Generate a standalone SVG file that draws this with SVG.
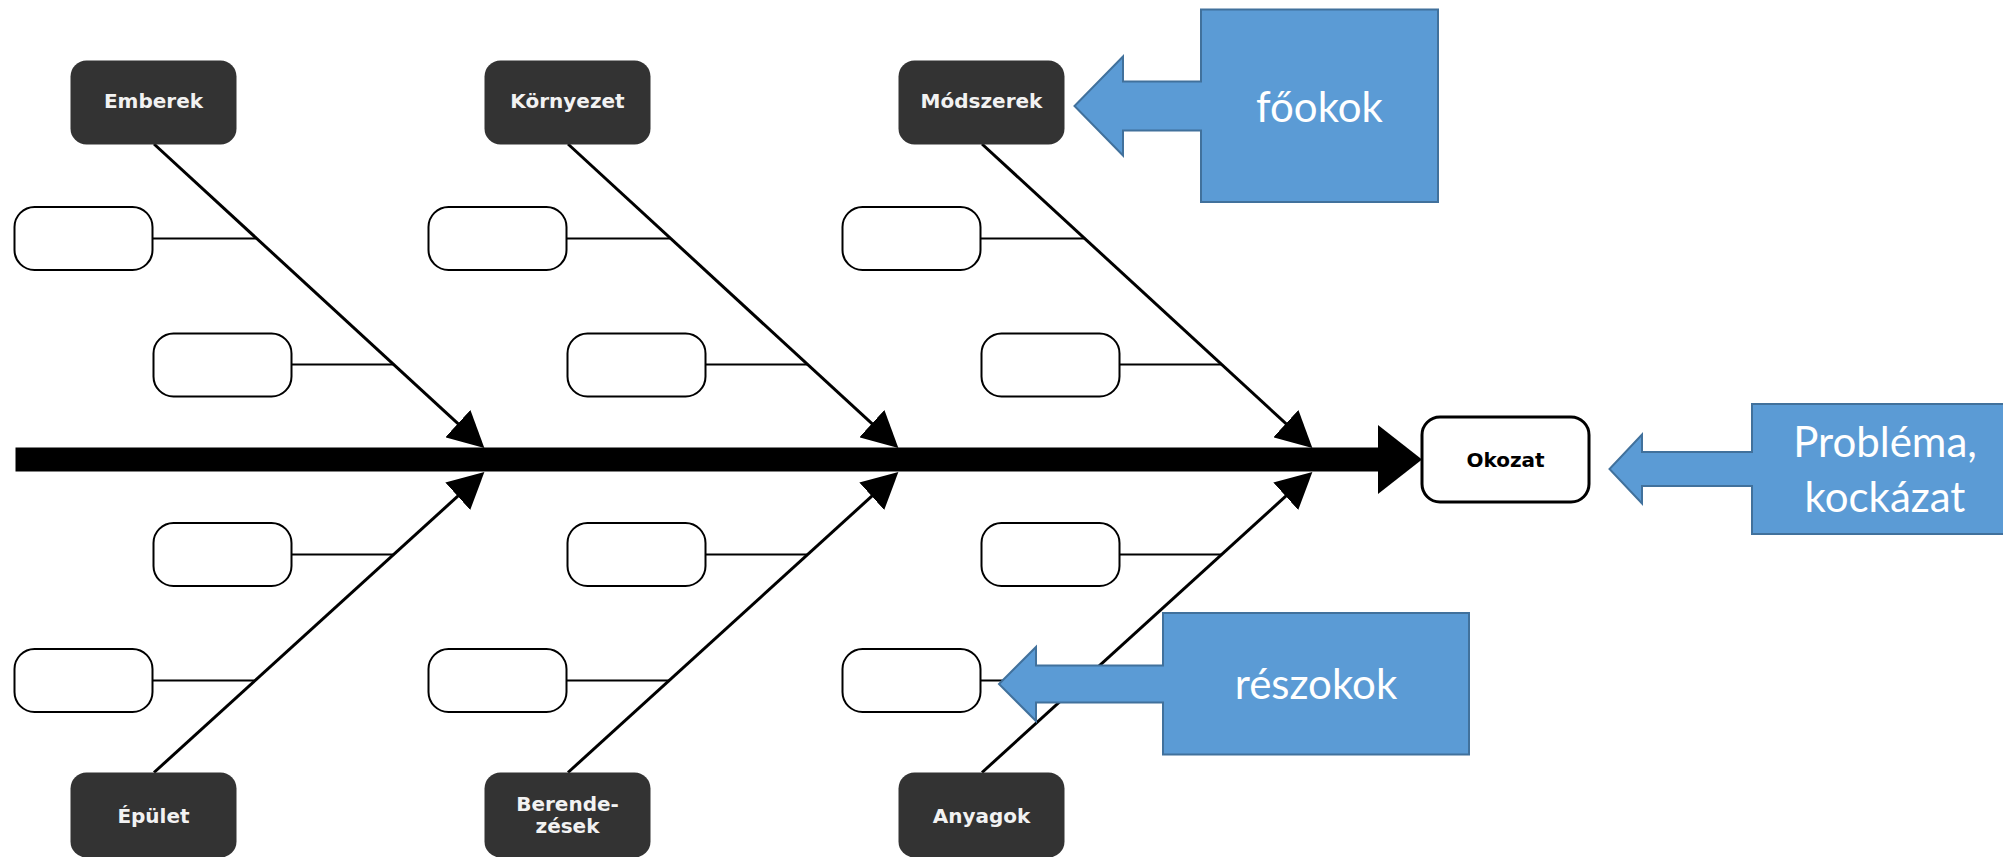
<svg xmlns="http://www.w3.org/2000/svg" width="2003" height="857" viewBox="0 0 2003 857">
  <style>
    .head rect { fill: #333333; }
    .head text { fill: #f2f2f2; font-family: "DejaVu Sans", Verdana, sans-serif; font-weight: bold; font-size: 20px; text-anchor: middle; }
    .sub { fill: #ffffff; stroke: #000000; stroke-width: 2; }
    .bone { stroke: #000000; stroke-width: 3; fill: none; }
    .twig { stroke: #000000; stroke-width: 1.8; fill: none; }
    .effect rect { fill: #ffffff; stroke: #000000; stroke-width: 3; }
    .effect text { fill: #000000; font-family: "DejaVu Sans", Verdana, sans-serif; font-weight: bold; font-size: 20px; text-anchor: middle; }
    .callout polygon { fill: #5b9bd5; stroke: #41719c; stroke-width: 2; }
    .callout text { fill: #ffffff; font-family: Lato, "Open Sans", sans-serif; font-size: 42px; text-anchor: middle; }
  </style>
  <defs>
    <marker id="ah" markerUnits="userSpaceOnUse" viewBox="0 0 36 37" markerWidth="36" markerHeight="37" refX="26" refY="18.5" orient="auto">
      <path d="M0,0 L36,18.5 L0,37 Z" fill="#000000"/>
    </marker>
  </defs>

  <!-- bones and twigs -->
  <g id="connectors">
    <!-- group 1: Emberek / Épület -->
    <line class="bone" x1="154" y1="144" x2="477" y2="441.2" marker-end="url(#ah)"/>
    <line class="bone" x1="154" y1="772.5" x2="477" y2="478.7" marker-end="url(#ah)"/>
    <line class="twig" x1="152.5" y1="238.5" x2="256.7" y2="238.5"/>
    <line class="twig" x1="291.5" y1="364.5" x2="393.6" y2="364.5"/>
    <line class="twig" x1="291.5" y1="554.5" x2="393.7" y2="554.5"/>
    <line class="twig" x1="152.5" y1="680.5" x2="255.2" y2="680.5"/>
    <!-- group 2: Környezet / Berendezések -->
    <line class="bone" x1="568" y1="144" x2="891" y2="441.2" marker-end="url(#ah)"/>
    <line class="bone" x1="568" y1="772.5" x2="891" y2="478.7" marker-end="url(#ah)"/>
    <line class="twig" x1="566.5" y1="238.5" x2="670.7" y2="238.5"/>
    <line class="twig" x1="705.5" y1="364.5" x2="807.6" y2="364.5"/>
    <line class="twig" x1="705.5" y1="554.5" x2="807.7" y2="554.5"/>
    <line class="twig" x1="566.5" y1="680.5" x2="669.2" y2="680.5"/>
    <!-- group 3: Módszerek / Anyagok -->
    <line class="bone" x1="982" y1="144" x2="1305" y2="441.2" marker-end="url(#ah)"/>
    <line class="bone" x1="982" y1="772.5" x2="1305" y2="478.7" marker-end="url(#ah)"/>
    <line class="twig" x1="980.5" y1="238.5" x2="1084.7" y2="238.5"/>
    <line class="twig" x1="1119.5" y1="364.5" x2="1221.6" y2="364.5"/>
    <line class="twig" x1="1119.5" y1="554.5" x2="1221.7" y2="554.5"/>
    <line class="twig" x1="980.5" y1="680.5" x2="1083.2" y2="680.5"/>
    <!-- spine -->
    <rect x="15.5" y="447.5" width="1363" height="24" fill="#000000"/>
    <polygon points="1378,425 1422,459.5 1378,494" fill="#000000"/>
  </g>

  <!-- sub-cause boxes -->
  <g id="sub-causes">
    <rect id="sub-1a" class="sub" x="14.5" y="207" width="138" height="63" rx="20"/>
    <rect id="sub-1b" class="sub" x="153.5" y="333.5" width="138" height="63" rx="20"/>
    <rect id="sub-1c" class="sub" x="153.5" y="523" width="138" height="63" rx="20"/>
    <rect id="sub-1d" class="sub" x="14.5" y="649" width="138" height="63" rx="20"/>
    <rect id="sub-2a" class="sub" x="428.5" y="207" width="138" height="63" rx="20"/>
    <rect id="sub-2b" class="sub" x="567.5" y="333.5" width="138" height="63" rx="20"/>
    <rect id="sub-2c" class="sub" x="567.5" y="523" width="138" height="63" rx="20"/>
    <rect id="sub-2d" class="sub" x="428.5" y="649" width="138" height="63" rx="20"/>
    <rect id="sub-3a" class="sub" x="842.5" y="207" width="138" height="63" rx="20"/>
    <rect id="sub-3b" class="sub" x="981.5" y="333.5" width="138" height="63" rx="20"/>
    <rect id="sub-3c" class="sub" x="981.5" y="523" width="138" height="63" rx="20"/>
    <rect id="sub-3d" class="sub" x="842.5" y="649" width="138" height="63" rx="20"/>
  </g>

  <!-- main cause heads -->
  <g id="emberek" class="head">
    <rect x="70.5" y="60.5" width="166" height="84" rx="16"/>
    <text x="153.5" y="108">Emberek</text>
  </g>
  <g id="kornyezet" class="head">
    <rect x="484.5" y="60.5" width="166" height="84" rx="16"/>
    <text x="567.5" y="108">Környezet</text>
  </g>
  <g id="modszerek" class="head">
    <rect x="898.5" y="60.5" width="166" height="84" rx="16"/>
    <text x="981.5" y="108">Módszerek</text>
  </g>
  <g id="epulet" class="head">
    <rect x="70.5" y="772.5" width="166" height="85" rx="16"/>
    <text x="153.5" y="823">Épület</text>
  </g>
  <g id="berendezesek" class="head">
    <rect x="484.5" y="772.5" width="166" height="85" rx="16"/>
    <text x="567.5" y="811">Berende-</text>
    <text x="567.5" y="833">zések</text>
  </g>
  <g id="anyagok" class="head">
    <rect x="898.5" y="772.5" width="166" height="85" rx="16"/>
    <text x="981.5" y="823">Anyagok</text>
  </g>

  <!-- effect -->
  <g id="okozat" class="effect">
    <rect x="1422" y="417" width="167" height="85" rx="18"/>
    <text x="1505.5" y="466.5">Okozat</text>
  </g>

  <!-- annotation callouts -->
  <g id="fookok" class="callout">
    <polygon points="1201,9.5 1438,9.5 1438,202 1201,202 1201,130.5 1123,130.5 1123,155.5 1074.5,106 1123,56.5 1123,81.5 1201,81.5"/>
    <text x="1319.5" y="121.5">főokok</text>
  </g>
  <g id="problema" class="callout">
    <polygon points="1752,404 2020,404 2020,534 1752,534 1752,486 1642,486 1642,503.5 1609.5,469 1642,434.5 1642,452 1752,452"/>
    <text x="1885" y="457">Probléma,</text>
    <text x="1885" y="511.5">kockázat</text>
  </g>
  <g id="reszokok" class="callout">
    <polygon points="1163,613 1469,613 1469,754.5 1163,754.5 1163,702.5 1036,702.5 1036,721 999,684 1036,647 1036,665.5 1163,665.5"/>
    <text x="1316" y="699">részokok</text>
  </g>
</svg>
